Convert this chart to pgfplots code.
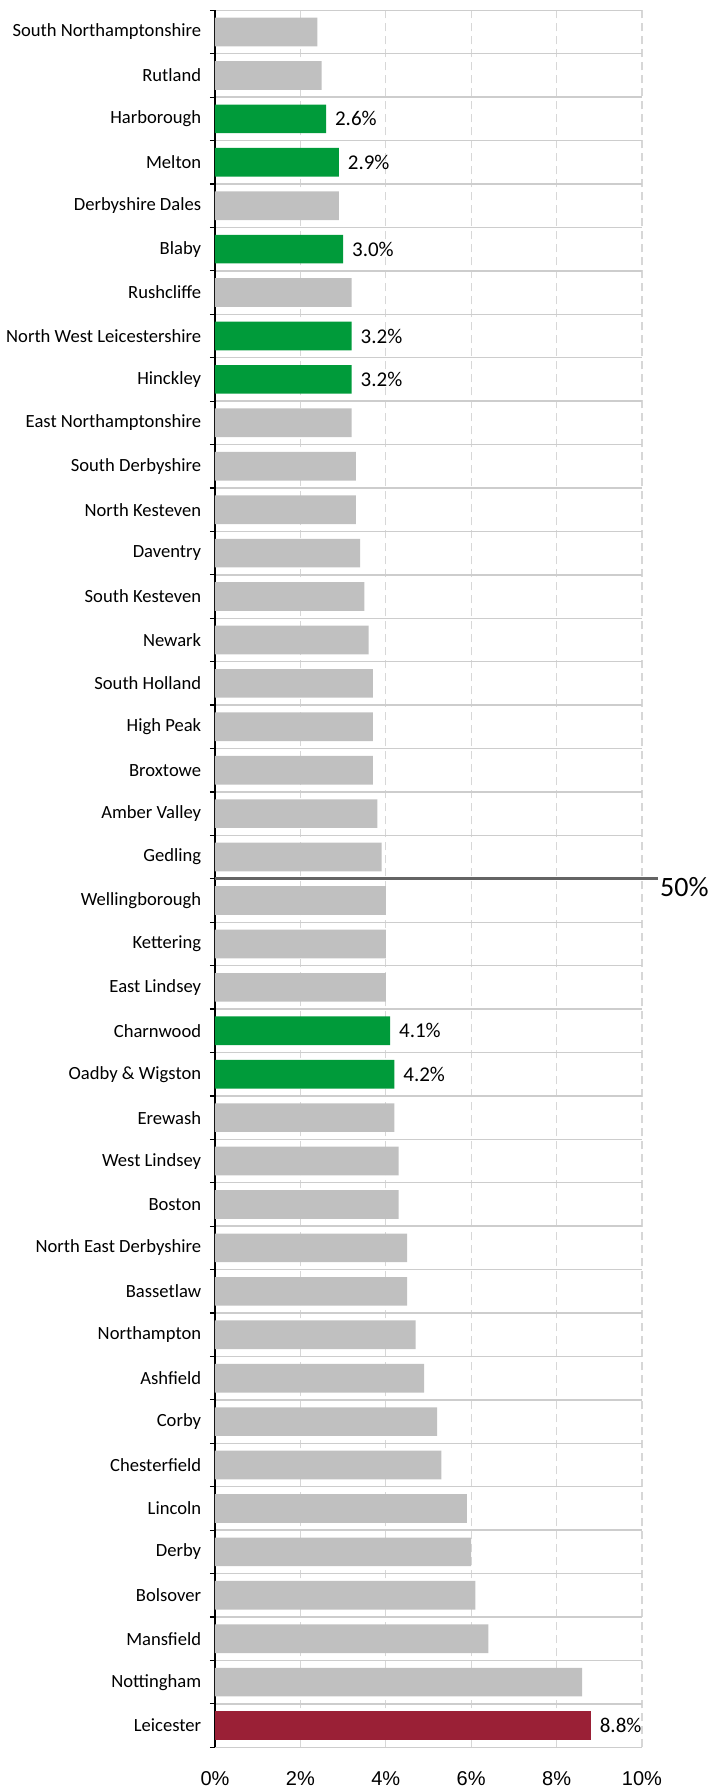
\documentclass[border=0pt]{standalone}
\usepackage{fontspec}
\setmainfont{Carlito}
\newfontfamily\arialfont{Liberation Sans}
\usepackage{pgfplots}
\pgfplotsset{compat=1.18}
\definecolor{bargray}{RGB}{192,192,192}
\definecolor{bargreen}{RGB}{0,155,58}
\definecolor{barred}{RGB}{154,32,54}
\definecolor{hgrid}{RGB}{205,205,205}
\definecolor{vgrid}{RGB}{215,215,215}
\definecolor{medline}{RGB}{100,100,100}
\begin{document}
\begin{tikzpicture}
\path[use as bounding box] (-107.5pt,-20.85pt) rectangle (246.5pt,873.65pt);
\begin{axis}[
  scale only axis, width=213.5pt, height=868.5pt,
  xbar, bar width=0.66, bar shift=0pt,
  xmin=0, xmax=10, ymin=-0.5, ymax=39.5,
  clip=false,
  axis y line*=left, axis x line*=bottom, axis line style={-},
  x axis line style={draw=none},
  y axis line style={black, line width=0.6pt},
  xtick={0,2,4,6,8,10},
  xticklabels={0\%,2\%,4\%,6\%,8\%,10\%},
  xticklabel style={font=\arialfont\fontsize{10}{12}\selectfont, yshift=-8.6pt},
  ytick={0,...,39},
  yticklabels={Leicester, Nottingham, Mansfield, Bolsover, Derby, Lincoln, Chesterfield, Corby, Ashfield, Northampton, Bassetlaw, North East Derbyshire, Boston, West Lindsey, Erewash, Oadby \& Wigston, Charnwood, East Lindsey, Kettering, Wellingborough, Gedling, Amber Valley, Broxtowe, High Peak, South Holland, Newark, South Kesteven, Daventry, North Kesteven, South Derbyshire, East Northamptonshire, Hinckley, North West Leicestershire, Rushcliffe, Blaby, Derbyshire Dales, Melton, Harborough, Rutland, South Northamptonshire},
  yticklabel style={font=\fontsize{9.3}{10}\selectfont, xshift=-3.4pt},
  minor ytick={-0.5,0.5,...,39.5},
  major tick length=0pt, minor tick length=2.5pt, tick align=outside,
  minor tick style={black, line width=0.6pt},
  xmajorgrids, major x grid style={vgrid, line width=0.6pt, dash pattern=on 4pt off 2.5pt},
  yminorgrids, minor y grid style={hgrid, line width=0.7pt, solid},
]
\addplot[fill=bargray, draw=none] coordinates {
(2.4,39) (2.5,38) (2.9,35) (3.2,33) (3.2,30) (3.3,29) (3.3,28) (3.4,27) (3.5,26) (3.6,25)
(3.7,24) (3.7,23) (3.7,22) (3.8,21) (3.9,20) (4.0,19) (4.0,18) (4.0,17) (4.2,14) (4.3,13)
(4.3,12) (4.5,11) (4.5,10) (4.7,9) (4.9,8) (5.2,7) (5.3,6) (5.9,5) (6.0,4) (6.1,3)
(6.4,2) (8.6,1)
};
\addplot[fill=bargreen, draw=none, point meta=x,
  nodes near coords={\pgfmathprintnumber[fixed,fixed zerofill,precision=1,assume math mode=true]{\pgfplotspointmeta}\%},
  every node near coord/.append style={font=\fontsize{10.5}{12}\selectfont, anchor=west, xshift=1pt, black}]
coordinates {
(2.6,37) (2.9,36) (3.0,34) (3.2,32) (3.2,31) (4.1,16) (4.2,15)
};
\addplot[fill=barred, draw=none, point meta=x,
  nodes near coords={\pgfmathprintnumber[fixed,fixed zerofill,precision=1,assume math mode=true]{\pgfplotspointmeta}\%},
  every node near coord/.append style={font=\fontsize{10.5}{12}\selectfont, anchor=west, xshift=1pt, black}]
coordinates {
(8.8,0)
};
\addplot[xbar=false, sharp plot, medline, line width=1.5pt, mark=none] coordinates {(0,19.5) (10.37,19.5)};
\node[anchor=west, inner sep=0pt, xshift=1pt, yshift=-4pt, font=\fontsize{14}{16}\selectfont] at (axis cs:10.37,19.5) {50\%};
\end{axis}
\end{tikzpicture}
\end{document}
